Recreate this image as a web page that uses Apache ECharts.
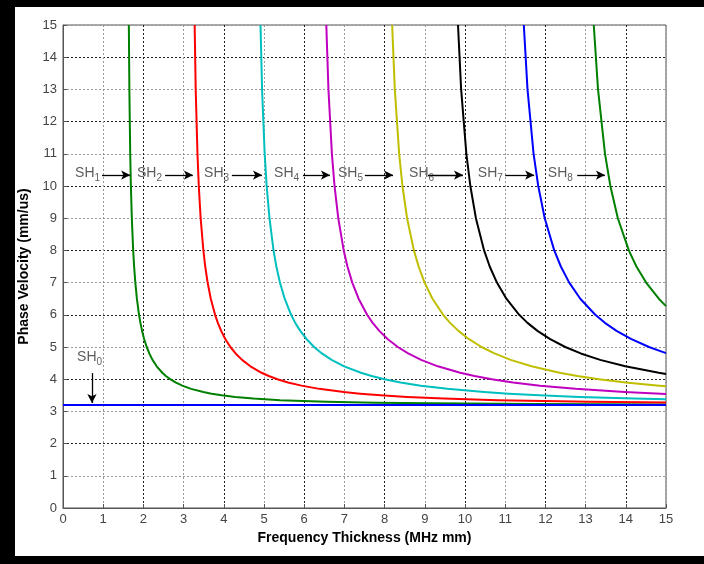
<!DOCTYPE html>
<html>
<head>
<meta charset="utf-8">
<script src="https://cdn.jsdelivr.net/npm/echarts@6/dist/echarts.min.js"></script>
<style>
  html, body { margin: 0; padding: 0; background: #fff; }
  #chart { width: 704px; height: 564px; }
</style>
</head>
<body>
<div id="chart"></div>
<script>
// SH0 - flat mode
var sh0 = [[0, 3.2], [15, 3.2]];

// SH1..SH8, [fd, velocity]
var sh1 = [[1.638, 15], [1.651, 13], [1.672, 11], [1.689, 10], [1.712, 9], [1.746, 8], [1.769, 7.5], [1.799, 7],
    [1.838, 6.5], [1.891, 6], [1.926, 5.75], [1.967, 5.5], [2.018, 5.25], [2.082, 5], [2.147, 4.8], [2.227, 4.6],
    [2.331, 4.4], [2.470, 4.2], [2.559, 4.1], [2.667, 4], [2.799, 3.9], [2.967, 3.8], [3.187, 3.7], [3.492, 3.6],
    [3.695, 3.55], [3.950, 3.5], [4.281, 3.45], [4.735, 3.4], [5.405, 3.35], [6.549, 3.3], [7.775, 3.27],
    [9.163, 3.25], [11.766, 3.23], [15, 3.218]];
var sh2 = [[3.275, 15], [3.301, 13], [3.345, 11], [3.378, 10], [3.424, 9], [3.492, 8], [3.538, 7.5], [3.598, 7],
    [3.676, 6.5], [3.783, 6], [3.852, 5.75], [3.934, 5.5], [4.036, 5.25], [4.164, 5], [4.293, 4.8], [4.454, 4.6],
    [4.662, 4.4], [4.940, 4.2], [5.119, 4.1], [5.333, 4], [5.598, 3.9], [5.933, 3.8], [6.374, 3.7], [6.985, 3.6],
    [7.391, 3.55], [7.900, 3.5], [8.562, 3.45], [9.470, 3.4], [10.810, 3.35], [13.098, 3.3], [15, 3.275]];
var sh3 = [[4.913, 15], [4.952, 13], [5.017, 11], [5.066, 10], [5.136, 9], [5.237, 8], [5.307, 7.5], [5.397, 7],
    [5.515, 6.5], [5.674, 6], [5.777, 5.75], [5.902, 5.5], [6.055, 5.25], [6.247, 5], [6.440, 4.8], [6.682, 4.6],
    [6.994, 4.4], [7.411, 4.2], [7.678, 4.1], [8.000, 4], [8.397, 3.9], [8.900, 3.8], [9.562, 3.7], [10.477, 3.6],
    [11.086, 3.55], [11.849, 3.5], [12.843, 3.45], [14.205, 3.4], [15, 3.378]];
var sh4 = [[6.550, 15], [6.603, 13], [6.689, 11], [6.755, 10], [6.847, 9], [6.983, 8], [7.076, 7.5], [7.196, 7],
    [7.353, 6.5], [7.565, 6], [7.703, 5.75], [7.869, 5.5], [8.073, 5.25], [8.329, 5], [8.586, 4.8], [8.909, 4.6],
    [9.325, 4.4], [9.881, 4.2], [10.237, 4.1], [10.667, 4], [11.196, 3.9], [11.867, 3.8], [12.749, 3.7],
    [13.970, 3.6], [15, 3.538]];
var sh5 = [[8.188, 15], [8.254, 13], [8.362, 11], [8.444, 10], [8.559, 9], [8.729, 8], [8.846, 7.5], [8.995, 7],
    [9.191, 6.5], [9.457, 6], [9.629, 5.75], [9.836, 5.5], [10.091, 5.25], [10.411, 5], [10.733, 4.8], [11.136, 4.6],
    [11.656, 4.4], [12.351, 4.2], [12.797, 4.1], [13.333, 4], [13.995, 3.9], [14.834, 3.8], [15, 3.783]];
var sh6 = [[9.826, 15], [9.904, 13], [10.034, 11], [10.133, 10], [10.271, 9], [10.475, 8], [10.615, 7.5], [10.794, 7],
    [11.029, 6.5], [11.348, 6], [11.555, 5.75], [11.803, 5.5], [12.109, 5.25], [12.493, 5], [12.879, 4.8],
    [13.363, 4.6], [13.987, 4.4], [14.821, 4.2], [15, 4.164]];
var sh7 = [[11.463, 15], [11.555, 13], [11.706, 11], [11.822, 10], [11.983, 9], [12.220, 8], [12.384, 7.5], [12.593, 7],
    [12.868, 6.5], [13.240, 6], [13.480, 5.75], [13.770, 5.5], [14.128, 5.25], [14.576, 5], [15, 4.811]];
var sh8 = [[13.203, 15], [13.309, 13], [13.483, 11], [13.616, 10], [13.802, 9], [14.075, 8], [14.264, 7.5],
    [14.505, 7], [14.821, 6.5], [15, 6.271]];

var modes = [sh0, sh1, sh2, sh3, sh4, sh5, sh6, sh7, sh8];
var modeColors = ['#0000ff', '#008000', '#ff0000', '#00bfbf', '#bf00bf', '#bfbf00', '#000000', '#0000ff', '#008000'];

// annotations: mode names and arrows (data units)
var labelIdx = ['1', '2', '3', '4', '5', '6', '7', '8', '0'];
var labelX = [0.3, 1.84, 3.51, 5.25, 6.84, 8.61, 10.32, 12.06, 0.35];
var labelY = [10.4, 10.4, 10.4, 10.4, 10.4, 10.4, 10.4, 10.4, 4.68];
var arrowFrom = [[0.97, 10.34], [2.54, 10.34], [4.2, 10.34], [5.97, 10.34], [7.51, 10.34], [9.08, 10.34], [11.0, 10.34], [12.79, 10.34], [0.72, 4.19]];
var arrowTo = [[1.67, 10.34], [3.23, 10.34], [4.95, 10.34], [6.64, 10.34], [8.21, 10.34], [9.95, 10.34], [11.72, 10.34], [13.48, 10.34], [0.72, 3.26]];

var FONT = 'Liberation Sans, Arial, sans-serif';

var splitStyle = {
    show: true,
    lineStyle: { color: ['#222', '#999'], width: 1, type: [2, 2] }
};

var series = modes.map(function (d, i) {
    return {
        name: 'SH' + i,
        type: 'line',
        data: d,
        showSymbol: false,
        lineStyle: { color: modeColors[i], width: 2, join: 'round' },
        itemStyle: { color: modeColors[i] },
        z: i === 0 ? 4 : 3,
        silent: true
    };
});

// mode labels
series.push({
    type: 'scatter',
    symbolSize: 0,
    silent: true,
    data: labelX.map(function (x, i) { return [x, labelY[i], labelIdx[i]]; }),
    label: {
        show: true,
        position: 'right',
        distance: 0,
        formatter: function (p) { return '{a|SH}{b|' + p.value[2] + '}'; },
        rich: {
            a: { fontSize: 14, color: '#333', fontFamily: FONT, lineHeight: 16 },
            b: { fontSize: 10, color: '#333', fontFamily: FONT, padding: [10, 0, 0, 0] }
        }
    },
    z: 5
});

// arrows
series.push({
    type: 'line',
    data: [],
    silent: true,
    markLine: {
        silent: true,
        animation: false,
        symbol: ['none', 'arrow'],
        symbolSize: [7, 9],
        label: { show: false },
        lineStyle: { color: '#000', width: 1.3, type: 'solid' },
        emphasis: { disabled: true },
        data: arrowFrom.map(function (f, i) {
            return [{ coord: f }, { coord: arrowTo[i] }];
        })
    }
});

var option = {
    animation: false,
    backgroundColor: '#fff',
    grid: {
        left: 63, top: 25, width: 603, height: 483,
        show: true, borderColor: '#555', borderWidth: 1
    },
    xAxis: {
        type: 'value',
        min: 0, max: 15, interval: 1,
        name: 'Frequency Thickness (MHz mm)',
        nameLocation: 'middle',
        nameGap: 22,
        nameTextStyle: { fontSize: 14, fontWeight: 'bold', color: '#000', fontFamily: FONT },
        axisLine: { lineStyle: { color: '#555' } },
        axisTick: { inside: true, length: 4, lineStyle: { color: '#555' } },
        axisLabel: { color: '#444', fontSize: 13, fontFamily: FONT, margin: 5 },
        splitLine: splitStyle
    },
    yAxis: {
        type: 'value',
        min: 0, max: 15, interval: 1,
        name: 'Phase Velocity (mm/us)',
        nameLocation: 'middle',
        nameGap: 27,
        nameTextStyle: { fontSize: 14, fontWeight: 'bold', color: '#000', fontFamily: FONT },
        axisLine: { lineStyle: { color: '#555' } },
        axisTick: { inside: true, length: 4, lineStyle: { color: '#555' } },
        axisLabel: { color: '#444', fontSize: 13, fontFamily: FONT, margin: 6 },
        splitLine: splitStyle
    },
    graphic: [
        { type: 'rect', shape: { x: 0, y: 0, width: 15, height: 564 }, style: { fill: '#000' }, z: 100 },
        { type: 'rect', shape: { x: 0, y: 0, width: 704, height: 7 }, style: { fill: '#000' }, z: 100 },
        { type: 'rect', shape: { x: 0, y: 556, width: 704, height: 8 }, style: { fill: '#000' }, z: 100 }
    ],
    series: series
};

var chart = echarts.init(document.getElementById('chart'));
chart.setOption(option);
</script>
</body>
</html>
